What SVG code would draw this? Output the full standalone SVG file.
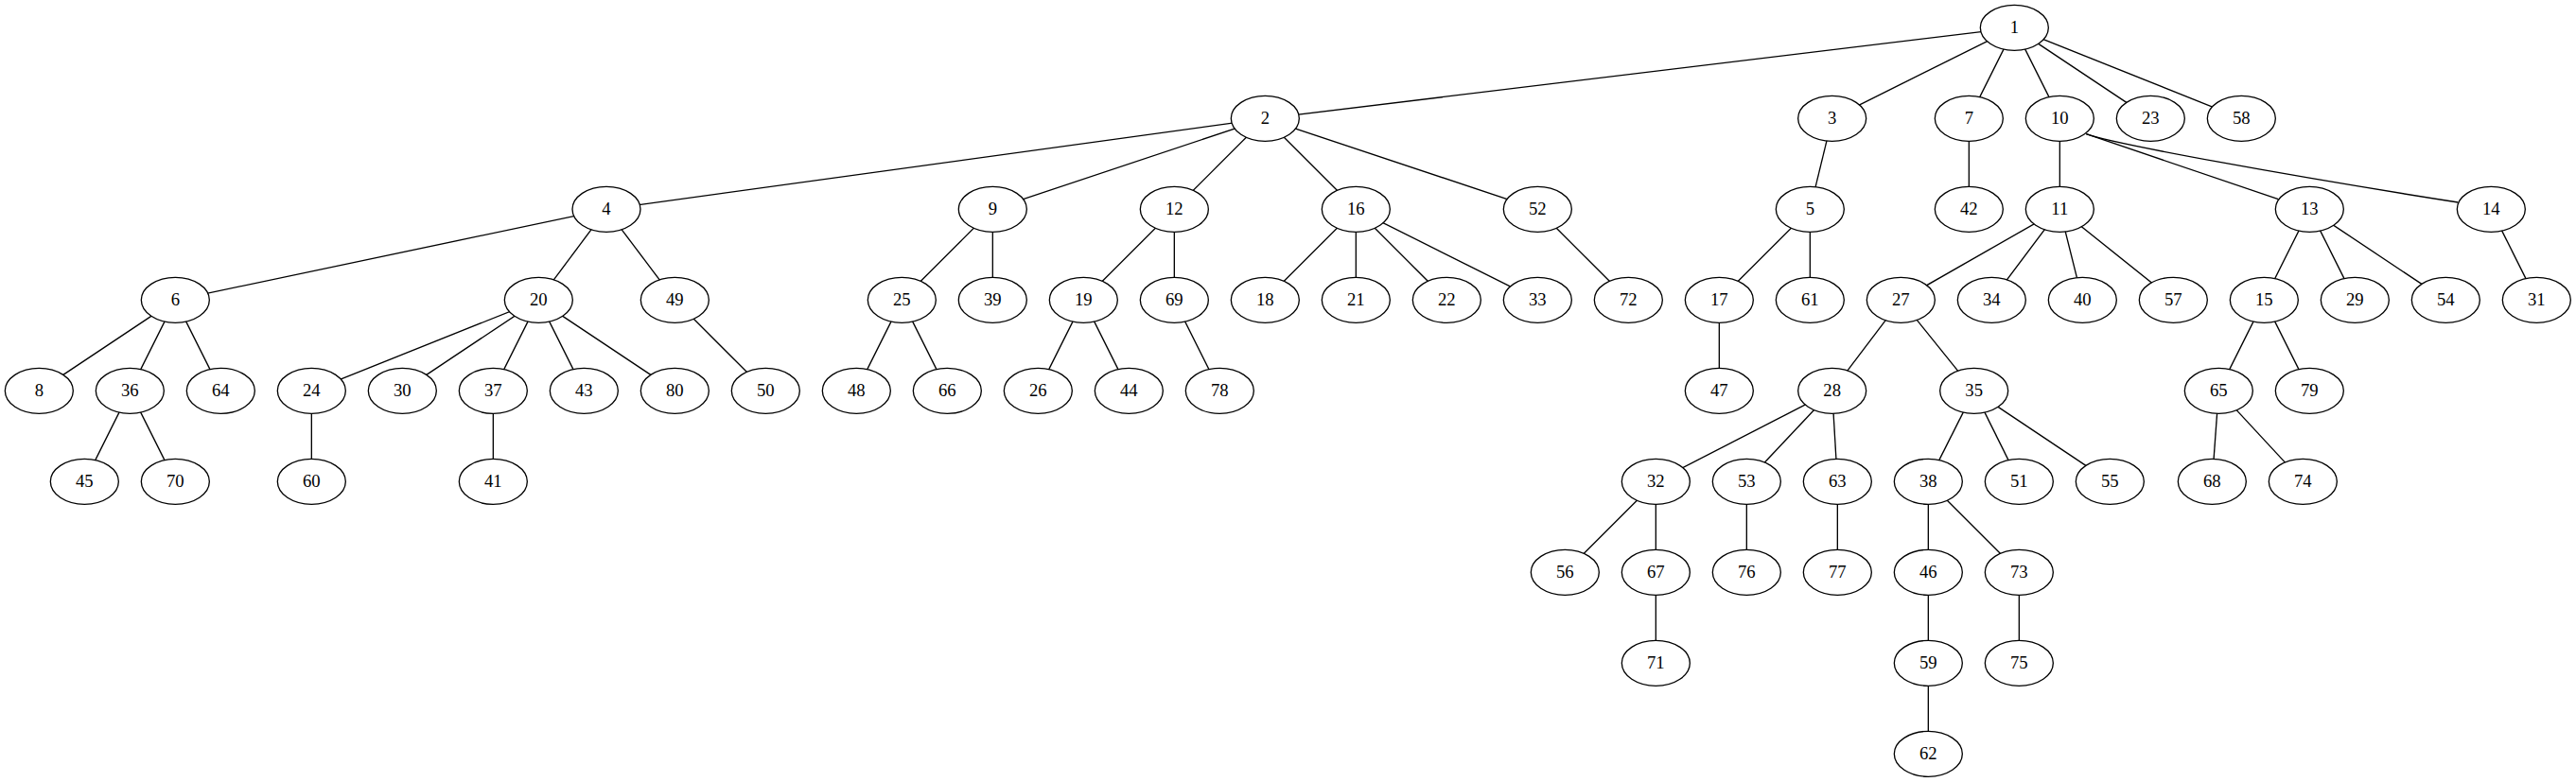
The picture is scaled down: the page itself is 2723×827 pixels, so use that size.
<svg xmlns="http://www.w3.org/2000/svg" width="2723" height="827" viewBox="0 0 2723 827">
<style>
.node ellipse{fill:#fff;stroke:#000;stroke-width:1.33}
.node text{font-family:"Liberation Serif","Times New Roman",serif;font-size:18.67px;text-anchor:middle;fill:#000}
#edges path{stroke:#000;stroke-width:1.33;fill:none}
</style>
<rect width="2723" height="827" fill="#fff"/>
<g id="edges">
<path d="M2129.33 29.33L1337.33 125.33"/>
<path d="M2129.33 29.33L1936.67 125.33"/>
<path d="M2129.33 29.33L2081.33 125.33"/>
<path d="M2129.33 29.33L2177.33 125.33"/>
<path d="M2129.33 29.33L2273.33 125.33"/>
<path d="M2129.33 29.33L2369.33 125.33"/>
<path d="M1337.33 125.33L641 221.33"/>
<path d="M1337.33 125.33L1049.33 221.33"/>
<path d="M1337.33 125.33L1241.33 221.33"/>
<path d="M1337.33 125.33L1433.33 221.33"/>
<path d="M1337.33 125.33L1625.33 221.33"/>
<path d="M1936.67 125.33L1913.33 221.33"/>
<path d="M2081.33 125.33L2081.33 221.33"/>
<path d="M2177.33 125.33L2177.33 221.33"/>
<path d="M2205.3 141.7L2408.3 210.7"/>
<path d="M2205.3 141.7C2232 152 2420 186 2598.3 214"/>
<path d="M641 221.33L185.33 317.33"/>
<path d="M641 221.33L569.33 317.33"/>
<path d="M641 221.33L713.33 317.33"/>
<path d="M1049.33 221.33L953.33 317.33"/>
<path d="M1049.33 221.33L1049.33 317.33"/>
<path d="M1241.33 221.33L1145.33 317.33"/>
<path d="M1241.33 221.33L1241.33 317.33"/>
<path d="M1433.33 221.33L1337.33 317.33"/>
<path d="M1433.33 221.33L1433.33 317.33"/>
<path d="M1433.33 221.33L1529.33 317.33"/>
<path d="M1433.33 221.33L1625.33 317.33"/>
<path d="M1625.33 221.33L1721.33 317.33"/>
<path d="M1913.33 221.33L1817.33 317.33"/>
<path d="M1913.33 221.33L1913.33 317.33"/>
<path d="M2177.33 221.33L2009.33 317.33"/>
<path d="M2177.33 221.33L2105.33 317.33"/>
<path d="M2177.33 221.33L2201.33 317.33"/>
<path d="M2177.33 221.33L2297.33 317.33"/>
<path d="M2441.33 221.33L2393.33 317.33"/>
<path d="M2441.33 221.33L2489.33 317.33"/>
<path d="M2441.33 221.33L2585.33 317.33"/>
<path d="M2633.33 221.33L2681.33 317.33"/>
<path d="M185.33 317.33L41.33 413.33"/>
<path d="M185.33 317.33L137.33 413.33"/>
<path d="M185.33 317.33L233.33 413.33"/>
<path d="M569.33 317.33L329.33 413.33"/>
<path d="M569.33 317.33L425.33 413.33"/>
<path d="M569.33 317.33L521.33 413.33"/>
<path d="M569.33 317.33L617.33 413.33"/>
<path d="M569.33 317.33L713.33 413.33"/>
<path d="M713.33 317.33L809.33 413.33"/>
<path d="M953.33 317.33L905.33 413.33"/>
<path d="M953.33 317.33L1001.33 413.33"/>
<path d="M1145.33 317.33L1097.33 413.33"/>
<path d="M1145.33 317.33L1193.33 413.33"/>
<path d="M1241.33 317.33L1289.33 413.33"/>
<path d="M1817.33 317.33L1817.33 413.33"/>
<path d="M2009.33 317.33L1936.67 413.33"/>
<path d="M2009.33 317.33L2086.67 413.33"/>
<path d="M2393.33 317.33L2345.33 413.33"/>
<path d="M2393.33 317.33L2441.33 413.33"/>
<path d="M137.33 413.33L89.33 509.33"/>
<path d="M137.33 413.33L185.33 509.33"/>
<path d="M329.33 413.33L329.33 509.33"/>
<path d="M521.33 413.33L521.33 509.33"/>
<path d="M1936.67 413.33L1750.33 509.33"/>
<path d="M1936.67 413.33L1846.33 509.33"/>
<path d="M1936.67 413.33L1942.33 509.33"/>
<path d="M2086.67 413.33L2038.33 509.33"/>
<path d="M2086.67 413.33L2134.33 509.33"/>
<path d="M2086.67 413.33L2230.33 509.33"/>
<path d="M2345.33 413.33L2338.33 509.33"/>
<path d="M2345.33 413.33L2434.33 509.33"/>
<path d="M1750.33 509.33L1654.33 605.33"/>
<path d="M1750.33 509.33L1750.33 605.33"/>
<path d="M1846.33 509.33L1846.33 605.33"/>
<path d="M1942.33 509.33L1942.33 605.33"/>
<path d="M2038.33 509.33L2038.33 605.33"/>
<path d="M2038.33 509.33L2134.33 605.33"/>
<path d="M1750.33 605.33L1750.33 701.33"/>
<path d="M2038.33 605.33L2038.33 701.33"/>
<path d="M2134.33 605.33L2134.33 701.33"/>
<path d="M2038.33 701.33L2038.33 797.33"/>
</g>
<g id="node1" class="node"><ellipse cx="2129.33" cy="29.33" rx="36" ry="24"/><text x="2129.33" y="34.93">1</text></g>
<g id="node2" class="node"><ellipse cx="1337.33" cy="125.33" rx="36" ry="24"/><text x="1337.33" y="130.93">2</text></g>
<g id="node3" class="node"><ellipse cx="1936.67" cy="125.33" rx="36" ry="24"/><text x="1936.67" y="130.93">3</text></g>
<g id="node7" class="node"><ellipse cx="2081.33" cy="125.33" rx="36" ry="24"/><text x="2081.33" y="130.93">7</text></g>
<g id="node10" class="node"><ellipse cx="2177.33" cy="125.33" rx="36" ry="24"/><text x="2177.33" y="130.93">10</text></g>
<g id="node23" class="node"><ellipse cx="2273.33" cy="125.33" rx="36" ry="24"/><text x="2273.33" y="130.93">23</text></g>
<g id="node58" class="node"><ellipse cx="2369.33" cy="125.33" rx="36" ry="24"/><text x="2369.33" y="130.93">58</text></g>
<g id="node4" class="node"><ellipse cx="641" cy="221.33" rx="36" ry="24"/><text x="641" y="226.93">4</text></g>
<g id="node9" class="node"><ellipse cx="1049.33" cy="221.33" rx="36" ry="24"/><text x="1049.33" y="226.93">9</text></g>
<g id="node12" class="node"><ellipse cx="1241.33" cy="221.33" rx="36" ry="24"/><text x="1241.33" y="226.93">12</text></g>
<g id="node16" class="node"><ellipse cx="1433.33" cy="221.33" rx="36" ry="24"/><text x="1433.33" y="226.93">16</text></g>
<g id="node52" class="node"><ellipse cx="1625.33" cy="221.33" rx="36" ry="24"/><text x="1625.33" y="226.93">52</text></g>
<g id="node5" class="node"><ellipse cx="1913.33" cy="221.33" rx="36" ry="24"/><text x="1913.33" y="226.93">5</text></g>
<g id="node42" class="node"><ellipse cx="2081.33" cy="221.33" rx="36" ry="24"/><text x="2081.33" y="226.93">42</text></g>
<g id="node11" class="node"><ellipse cx="2177.33" cy="221.33" rx="36" ry="24"/><text x="2177.33" y="226.93">11</text></g>
<g id="node13" class="node"><ellipse cx="2441.33" cy="221.33" rx="36" ry="24"/><text x="2441.33" y="226.93">13</text></g>
<g id="node14" class="node"><ellipse cx="2633.33" cy="221.33" rx="36" ry="24"/><text x="2633.33" y="226.93">14</text></g>
<g id="node6" class="node"><ellipse cx="185.33" cy="317.33" rx="36" ry="24"/><text x="185.33" y="322.93">6</text></g>
<g id="node20" class="node"><ellipse cx="569.33" cy="317.33" rx="36" ry="24"/><text x="569.33" y="322.93">20</text></g>
<g id="node49" class="node"><ellipse cx="713.33" cy="317.33" rx="36" ry="24"/><text x="713.33" y="322.93">49</text></g>
<g id="node25" class="node"><ellipse cx="953.33" cy="317.33" rx="36" ry="24"/><text x="953.33" y="322.93">25</text></g>
<g id="node39" class="node"><ellipse cx="1049.33" cy="317.33" rx="36" ry="24"/><text x="1049.33" y="322.93">39</text></g>
<g id="node19" class="node"><ellipse cx="1145.33" cy="317.33" rx="36" ry="24"/><text x="1145.33" y="322.93">19</text></g>
<g id="node69" class="node"><ellipse cx="1241.33" cy="317.33" rx="36" ry="24"/><text x="1241.33" y="322.93">69</text></g>
<g id="node18" class="node"><ellipse cx="1337.33" cy="317.33" rx="36" ry="24"/><text x="1337.33" y="322.93">18</text></g>
<g id="node21" class="node"><ellipse cx="1433.33" cy="317.33" rx="36" ry="24"/><text x="1433.33" y="322.93">21</text></g>
<g id="node22" class="node"><ellipse cx="1529.33" cy="317.33" rx="36" ry="24"/><text x="1529.33" y="322.93">22</text></g>
<g id="node33" class="node"><ellipse cx="1625.33" cy="317.33" rx="36" ry="24"/><text x="1625.33" y="322.93">33</text></g>
<g id="node72" class="node"><ellipse cx="1721.33" cy="317.33" rx="36" ry="24"/><text x="1721.33" y="322.93">72</text></g>
<g id="node17" class="node"><ellipse cx="1817.33" cy="317.33" rx="36" ry="24"/><text x="1817.33" y="322.93">17</text></g>
<g id="node61" class="node"><ellipse cx="1913.33" cy="317.33" rx="36" ry="24"/><text x="1913.33" y="322.93">61</text></g>
<g id="node27" class="node"><ellipse cx="2009.33" cy="317.33" rx="36" ry="24"/><text x="2009.33" y="322.93">27</text></g>
<g id="node34" class="node"><ellipse cx="2105.33" cy="317.33" rx="36" ry="24"/><text x="2105.33" y="322.93">34</text></g>
<g id="node40" class="node"><ellipse cx="2201.33" cy="317.33" rx="36" ry="24"/><text x="2201.33" y="322.93">40</text></g>
<g id="node57" class="node"><ellipse cx="2297.33" cy="317.33" rx="36" ry="24"/><text x="2297.33" y="322.93">57</text></g>
<g id="node15" class="node"><ellipse cx="2393.33" cy="317.33" rx="36" ry="24"/><text x="2393.33" y="322.93">15</text></g>
<g id="node29" class="node"><ellipse cx="2489.33" cy="317.33" rx="36" ry="24"/><text x="2489.33" y="322.93">29</text></g>
<g id="node54" class="node"><ellipse cx="2585.33" cy="317.33" rx="36" ry="24"/><text x="2585.33" y="322.93">54</text></g>
<g id="node31" class="node"><ellipse cx="2681.33" cy="317.33" rx="36" ry="24"/><text x="2681.33" y="322.93">31</text></g>
<g id="node8" class="node"><ellipse cx="41.33" cy="413.33" rx="36" ry="24"/><text x="41.33" y="418.93">8</text></g>
<g id="node36" class="node"><ellipse cx="137.33" cy="413.33" rx="36" ry="24"/><text x="137.33" y="418.93">36</text></g>
<g id="node64" class="node"><ellipse cx="233.33" cy="413.33" rx="36" ry="24"/><text x="233.33" y="418.93">64</text></g>
<g id="node24" class="node"><ellipse cx="329.33" cy="413.33" rx="36" ry="24"/><text x="329.33" y="418.93">24</text></g>
<g id="node30" class="node"><ellipse cx="425.33" cy="413.33" rx="36" ry="24"/><text x="425.33" y="418.93">30</text></g>
<g id="node37" class="node"><ellipse cx="521.33" cy="413.33" rx="36" ry="24"/><text x="521.33" y="418.93">37</text></g>
<g id="node43" class="node"><ellipse cx="617.33" cy="413.33" rx="36" ry="24"/><text x="617.33" y="418.93">43</text></g>
<g id="node80" class="node"><ellipse cx="713.33" cy="413.33" rx="36" ry="24"/><text x="713.33" y="418.93">80</text></g>
<g id="node50" class="node"><ellipse cx="809.33" cy="413.33" rx="36" ry="24"/><text x="809.33" y="418.93">50</text></g>
<g id="node48" class="node"><ellipse cx="905.33" cy="413.33" rx="36" ry="24"/><text x="905.33" y="418.93">48</text></g>
<g id="node66" class="node"><ellipse cx="1001.33" cy="413.33" rx="36" ry="24"/><text x="1001.33" y="418.93">66</text></g>
<g id="node26" class="node"><ellipse cx="1097.33" cy="413.33" rx="36" ry="24"/><text x="1097.33" y="418.93">26</text></g>
<g id="node44" class="node"><ellipse cx="1193.33" cy="413.33" rx="36" ry="24"/><text x="1193.33" y="418.93">44</text></g>
<g id="node78" class="node"><ellipse cx="1289.33" cy="413.33" rx="36" ry="24"/><text x="1289.33" y="418.93">78</text></g>
<g id="node47" class="node"><ellipse cx="1817.33" cy="413.33" rx="36" ry="24"/><text x="1817.33" y="418.93">47</text></g>
<g id="node28" class="node"><ellipse cx="1936.67" cy="413.33" rx="36" ry="24"/><text x="1936.67" y="418.93">28</text></g>
<g id="node35" class="node"><ellipse cx="2086.67" cy="413.33" rx="36" ry="24"/><text x="2086.67" y="418.93">35</text></g>
<g id="node65" class="node"><ellipse cx="2345.33" cy="413.33" rx="36" ry="24"/><text x="2345.33" y="418.93">65</text></g>
<g id="node79" class="node"><ellipse cx="2441.33" cy="413.33" rx="36" ry="24"/><text x="2441.33" y="418.93">79</text></g>
<g id="node45" class="node"><ellipse cx="89.33" cy="509.33" rx="36" ry="24"/><text x="89.33" y="514.93">45</text></g>
<g id="node70" class="node"><ellipse cx="185.33" cy="509.33" rx="36" ry="24"/><text x="185.33" y="514.93">70</text></g>
<g id="node60" class="node"><ellipse cx="329.33" cy="509.33" rx="36" ry="24"/><text x="329.33" y="514.93">60</text></g>
<g id="node41" class="node"><ellipse cx="521.33" cy="509.33" rx="36" ry="24"/><text x="521.33" y="514.93">41</text></g>
<g id="node32" class="node"><ellipse cx="1750.33" cy="509.33" rx="36" ry="24"/><text x="1750.33" y="514.93">32</text></g>
<g id="node53" class="node"><ellipse cx="1846.33" cy="509.33" rx="36" ry="24"/><text x="1846.33" y="514.93">53</text></g>
<g id="node63" class="node"><ellipse cx="1942.33" cy="509.33" rx="36" ry="24"/><text x="1942.33" y="514.93">63</text></g>
<g id="node38" class="node"><ellipse cx="2038.33" cy="509.33" rx="36" ry="24"/><text x="2038.33" y="514.93">38</text></g>
<g id="node51" class="node"><ellipse cx="2134.33" cy="509.33" rx="36" ry="24"/><text x="2134.33" y="514.93">51</text></g>
<g id="node55" class="node"><ellipse cx="2230.33" cy="509.33" rx="36" ry="24"/><text x="2230.33" y="514.93">55</text></g>
<g id="node68" class="node"><ellipse cx="2338.33" cy="509.33" rx="36" ry="24"/><text x="2338.33" y="514.93">68</text></g>
<g id="node74" class="node"><ellipse cx="2434.33" cy="509.33" rx="36" ry="24"/><text x="2434.33" y="514.93">74</text></g>
<g id="node56" class="node"><ellipse cx="1654.33" cy="605.33" rx="36" ry="24"/><text x="1654.33" y="610.93">56</text></g>
<g id="node67" class="node"><ellipse cx="1750.33" cy="605.33" rx="36" ry="24"/><text x="1750.33" y="610.93">67</text></g>
<g id="node76" class="node"><ellipse cx="1846.33" cy="605.33" rx="36" ry="24"/><text x="1846.33" y="610.93">76</text></g>
<g id="node77" class="node"><ellipse cx="1942.33" cy="605.33" rx="36" ry="24"/><text x="1942.33" y="610.93">77</text></g>
<g id="node46" class="node"><ellipse cx="2038.33" cy="605.33" rx="36" ry="24"/><text x="2038.33" y="610.93">46</text></g>
<g id="node73" class="node"><ellipse cx="2134.33" cy="605.33" rx="36" ry="24"/><text x="2134.33" y="610.93">73</text></g>
<g id="node71" class="node"><ellipse cx="1750.33" cy="701.33" rx="36" ry="24"/><text x="1750.33" y="706.93">71</text></g>
<g id="node59" class="node"><ellipse cx="2038.33" cy="701.33" rx="36" ry="24"/><text x="2038.33" y="706.93">59</text></g>
<g id="node75" class="node"><ellipse cx="2134.33" cy="701.33" rx="36" ry="24"/><text x="2134.33" y="706.93">75</text></g>
<g id="node62" class="node"><ellipse cx="2038.33" cy="797.33" rx="36" ry="24"/><text x="2038.33" y="802.93">62</text></g>
</svg>
